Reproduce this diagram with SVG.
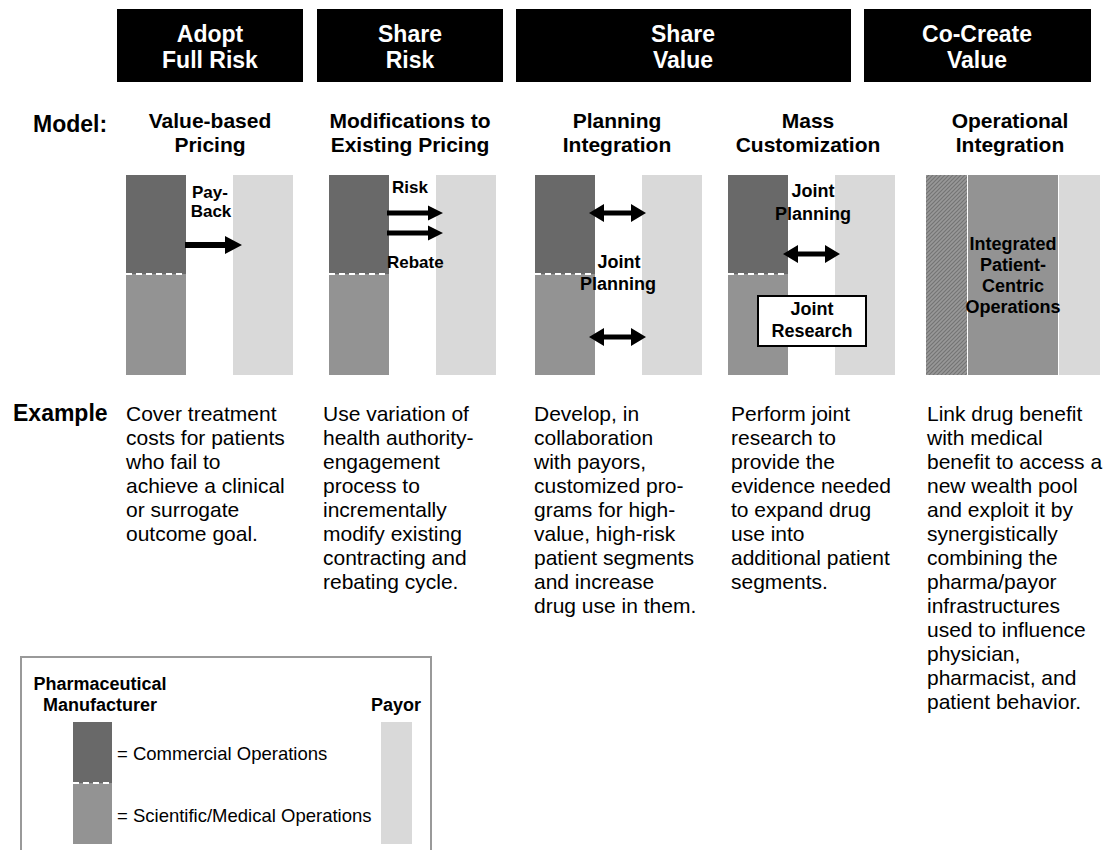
<svg xmlns="http://www.w3.org/2000/svg" width="1108" height="860" viewBox="0 0 1108 860">
  <defs>
    <style>
      text { font-family: "Liberation Sans", Arial, sans-serif; fill: #000; }
      .hdr { fill: #000; }
      .hdr-t { fill: #fff; font-weight: bold; font-size: 23px; text-anchor: middle; }
      .title { font-weight: bold; font-size: 21px; text-anchor: middle; }
      .lbl { font-weight: bold; font-size: 17px; }
      .lblc { font-weight: bold; font-size: 18px; text-anchor: middle; }
      .rowhd { font-weight: bold; font-size: 23px; }
      .ex { font-size: 21px; }
      .leg { font-size: 18.5px; }
      .legb { font-weight: bold; font-size: 18px; }
      .comm { fill: #696969; }
      .sci { fill: #939393; }
      .payor { fill: #d9d9d9; }
      .split { stroke: #fff; stroke-width: 2; stroke-dasharray: 6 4; }
      .arrow { fill: #000; }
    </style>
    <pattern id="hatch" patternUnits="userSpaceOnUse" width="4" height="4">
      <rect width="4" height="4" fill="#989898"/>
      <path d="M-1,1 L1,-1 M0,4 L4,0 M3,5 L5,3" stroke="#747474" stroke-width="1.2"/>
    </pattern>
    <!-- single-headed arrow pointing right, origin at left end of shaft -->
    <path id="arrowR" d="M0,-3 L40,-3 L40,-9 L57,0 L40,9 L40,3 L0,3 Z"/>
    <path id="arrowRs" d="M0,-2.5 L41,-2.5 L41,-7.5 L56,0 L41,7.5 L41,2.5 L0,2.5 Z"/>
    <!-- double-headed arrow, origin at left tip -->
    <path id="arrowLR" d="M0,0 L15,-9 L15,-2.5 L42,-2.5 L42,-9 L57,0 L42,9 L42,2.5 L15,2.5 L15,9 Z"/>
  </defs>

  <!-- stage headers -->
  <g id="stage-adopt-full-risk">
    <rect class="hdr" x="117" y="9" width="186" height="73"/>
    <text class="hdr-t" x="210" y="42">Adopt</text>
    <text class="hdr-t" x="210" y="68">Full Risk</text>
  </g>
  <g id="stage-share-risk">
    <rect class="hdr" x="317" y="9" width="186" height="73"/>
    <text class="hdr-t" x="410" y="42">Share</text>
    <text class="hdr-t" x="410" y="68">Risk</text>
  </g>
  <g id="stage-share-value">
    <rect class="hdr" x="516" y="9" width="335" height="73"/>
    <text class="hdr-t" x="683" y="42">Share</text>
    <text class="hdr-t" x="683" y="68">Value</text>
  </g>
  <g id="stage-co-create-value">
    <rect class="hdr" x="864" y="9" width="227" height="73"/>
    <text class="hdr-t" x="977" y="42">Co-Create</text>
    <text class="hdr-t" x="977" y="68">Value</text>
  </g>

  <!-- row headings -->
  <g id="row-headings">
    <text class="rowhd" x="33" y="132">Model:</text>
    <text class="rowhd" x="13" y="421">Example</text>
  </g>

  <!-- model 1 -->
  <g id="model-value-based-pricing">
    <text class="title" x="210" y="128">Value-based</text>
    <text class="title" x="210" y="152">Pricing</text>
    <rect class="comm" x="126" y="175" width="60" height="99"/>
    <rect class="sci" x="126" y="274" width="60" height="101"/>
    <line class="split" x1="126" y1="274" x2="186" y2="274"/>
    <rect class="payor" x="233" y="175" width="60" height="200"/>
    <text class="lbl" x="210" y="198" text-anchor="middle">Pay-</text>
    <text class="lbl" x="211" y="217" text-anchor="middle">Back</text>
  </g>

  <!-- model 2 -->
  <g id="model-modifications">
    <text class="title" x="410" y="128">Modifications to</text>
    <text class="title" x="410" y="152">Existing Pricing</text>
    <rect class="comm" x="329" y="175" width="60" height="99"/>
    <rect class="sci" x="329" y="274" width="60" height="101"/>
    <line class="split" x1="329" y1="274" x2="389" y2="274"/>
    <rect class="payor" x="436" y="175" width="60" height="200"/>
    <text class="lbl" x="392" y="193">Risk</text>
    <text class="lbl" x="387" y="268">Rebate</text>
  </g>

  <!-- model 3 -->
  <g id="model-planning-integration">
    <text class="title" x="617" y="128">Planning</text>
    <text class="title" x="617" y="152">Integration</text>
    <rect class="comm" x="535" y="175" width="60" height="99"/>
    <rect class="sci" x="535" y="274" width="60" height="101"/>
    <line class="split" x1="535" y1="274" x2="595" y2="274"/>
    <rect class="payor" x="642" y="175" width="60" height="200"/>
    <text class="lblc" x="619" y="268">Joint</text>
    <text class="lblc" x="618" y="290">Planning</text>
  </g>

  <!-- model 4 -->
  <g id="model-mass-customization">
    <text class="title" x="808" y="128">Mass</text>
    <text class="title" x="808" y="152">Customization</text>
    <rect class="comm" x="728" y="175" width="60" height="99"/>
    <rect class="sci" x="728" y="274" width="60" height="101"/>
    <line class="split" x1="728" y1="274" x2="788" y2="274"/>
    <rect class="payor" x="835" y="175" width="60" height="200"/>
    <text class="lblc" x="813" y="197">Joint</text>
    <text class="lblc" x="813" y="220">Planning</text>
  </g>
  <g id="joint-research">
    <rect x="758" y="296" width="108" height="50" fill="#fff" stroke="#000" stroke-width="2"/>
    <text class="lblc" x="812" y="315">Joint</text>
    <text class="lblc" x="812" y="337">Research</text>
  </g>

  <!-- model 5 -->
  <g id="model-operational-integration">
    <text class="title" x="1010" y="128">Operational</text>
    <text class="title" x="1010" y="152">Integration</text>
    <rect x="926" y="175" width="41" height="200" fill="url(#hatch)"/>
    <rect class="sci" x="968" y="175" width="90" height="200"/>
    <rect class="payor" x="1059" y="175" width="41" height="200"/>
    <text class="lblc" x="1013" y="250">Integrated</text>
    <text class="lblc" x="1013" y="271">Patient-</text>
    <text class="lblc" x="1013" y="292">Centric</text>
    <text class="lblc" x="1013" y="313">Operations</text>
  </g>

  <!-- flows between manufacturer and payor -->
  <g id="connectors" class="arrow">
    <use href="#arrowR" x="185" y="245"/>
    <use href="#arrowRs" x="387" y="213"/>
    <use href="#arrowRs" x="387" y="233"/>
    <use href="#arrowLR" x="589" y="213"/>
    <use href="#arrowLR" x="589" y="337"/>
    <use href="#arrowLR" x="783" y="254"/>
  </g>

  <!-- example descriptions -->
  <g id="example-1" class="ex">
    <text x="126" y="421">Cover treatment</text>
    <text x="126" y="445">costs for patients</text>
    <text x="126" y="469">who fail to</text>
    <text x="126" y="493">achieve a clinical</text>
    <text x="126" y="517">or surrogate</text>
    <text x="126" y="541">outcome goal.</text>
  </g>
  <g id="example-2" class="ex">
    <text x="323" y="421">Use variation of</text>
    <text x="323" y="445">health authority-</text>
    <text x="323" y="469">engagement</text>
    <text x="323" y="493">process to</text>
    <text x="323" y="517">incrementally</text>
    <text x="323" y="541">modify existing</text>
    <text x="323" y="565">contracting and</text>
    <text x="323" y="589">rebating cycle.</text>
  </g>
  <g id="example-3" class="ex">
    <text x="534" y="421">Develop, in</text>
    <text x="534" y="445">collaboration</text>
    <text x="534" y="469">with payors,</text>
    <text x="534" y="493">customized pro-</text>
    <text x="534" y="517">grams for high-</text>
    <text x="534" y="541">value, high-risk</text>
    <text x="534" y="565">patient segments</text>
    <text x="534" y="589">and increase</text>
    <text x="534" y="613">drug use in them.</text>
  </g>
  <g id="example-4" class="ex">
    <text x="731" y="421">Perform joint</text>
    <text x="731" y="445">research to</text>
    <text x="731" y="469">provide the</text>
    <text x="731" y="493">evidence needed</text>
    <text x="731" y="517">to expand drug</text>
    <text x="731" y="541">use into</text>
    <text x="731" y="565">additional patient</text>
    <text x="731" y="589">segments.</text>
  </g>
  <g id="example-5" class="ex">
    <text x="927" y="421">Link drug benefit</text>
    <text x="927" y="445">with medical</text>
    <text x="927" y="469">benefit to access a</text>
    <text x="927" y="493">new wealth pool</text>
    <text x="927" y="517">and exploit it by</text>
    <text x="927" y="541">synergistically</text>
    <text x="927" y="565">combining the</text>
    <text x="927" y="589">pharma/payor</text>
    <text x="927" y="613">infrastructures</text>
    <text x="927" y="637">used to influence</text>
    <text x="927" y="661">physician,</text>
    <text x="927" y="685">pharmacist, and</text>
    <text x="927" y="709">patient behavior.</text>
  </g>

  <!-- legend -->
  <g id="legend">
    <path d="M21,850 L21,657 L431,657 L431,850" fill="none" stroke="#999" stroke-width="2"/>
    <text class="legb" x="100" y="690" text-anchor="middle">Pharmaceutical</text>
    <text class="legb" x="100" y="711" text-anchor="middle">Manufacturer</text>
    <text class="legb" x="396" y="711" text-anchor="middle">Payor</text>
    <rect class="comm" x="73" y="722" width="39" height="61"/>
    <rect class="sci" x="73" y="783" width="39" height="61"/>
    <line class="split" x1="73" y1="783" x2="112" y2="783"/>
    <rect class="payor" x="381" y="722" width="31" height="122"/>
    <text class="leg" x="117" y="760">= Commercial Operations</text>
    <text class="leg" x="117" y="822">= Scientific/Medical Operations</text>
  </g>
</svg>
